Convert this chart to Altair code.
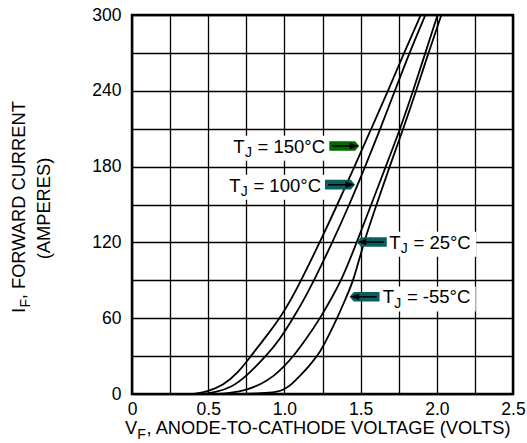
import altair as alt
import pandas as pd

# ---------------- data ----------------
series_names = ["TJ=150", "TJ=100", "TJ=25", "TJ=-55"]
v_150 = [0.40, 0.50, 0.60, 0.69, 0.78, 0.877, 0.97, 1.045, 1.11, 1.232, 1.348, 1.46, 1.57, 1.68, 1.785, 1.895]
i_150 = [0, 2, 7, 16, 30, 45, 60, 75, 90, 120, 150, 180, 210, 240, 270, 300]
v_100 = [0.47, 0.55, 0.65, 0.75, 0.88, 0.97, 1.057, 1.125, 1.195, 1.315, 1.427, 1.53, 1.63, 1.725, 1.82, 1.925]
i_100 = [0, 1.5, 5, 14, 30, 43, 60, 74, 90, 120, 150, 180, 210, 240, 270, 300]
v_25 = [0.55, 0.65, 0.75, 0.85, 0.93, 1.0, 1.06, 1.14, 1.235, 1.305, 1.375, 1.475, 1.57, 1.665, 1.76, 1.845, 1.925, 2.005]
i_25 = [0, 1, 3, 8, 14, 22, 30, 43, 60, 75, 90, 120, 150, 180, 210, 240, 270, 300]
v_m55 = [0.70, 0.85, 0.95, 1.0, 1.05, 1.10, 1.16, 1.23, 1.29, 1.35, 1.40, 1.455, 1.52, 1.605, 1.69, 1.78, 1.865, 1.945, 2.03]
i_m55 = [0, 0.5, 1.5, 3.5, 8, 14, 22, 32, 46, 61, 75, 90, 120, 150, 180, 210, 240, 270, 300]

x_ticks = [0, 0.25, 0.5, 0.75, 1.0, 1.25, 1.5, 1.75, 2.0, 2.25, 2.5]
y_ticks = [0, 30, 60, 90, 120, 150, 180, 210, 240, 270, 300]

# annotation labels ("T", subscript "J", remainder)
label_rest = ["= 150°C", "= 100°C", "= 25°C", "= -55°C"]
label_v = [0.665, 0.638, 1.688, 1.645]
label_i = [191.0, 160.1, 115.0, 71.7]
label_box_px = [97, 97, 87, 93]
arrow_v = [1.393, 1.365, 1.573, 1.526]
arrow_i = [196.3, 165.7, 120.3, 77.0]
arrow_dir = ["right", "right", "left", "left"]
arrow_color = ["#006a00", "#0b5e5e", "#0b5e5e", "#0b5e5e"]

# ---------------- layout ----------------
W, H = 381, 379
PX_PER_V = W / 2.5
PX_PER_A = H / 300.0
FONT = "Liberation Sans"

rows = []
for name, vs, iss in zip(series_names, [v_150, v_100, v_25, v_m55], [i_150, i_100, i_25, i_m55]):
    for v, i in zip(vs, iss):
        rows.append({"series": name, "V": v, "I": i})
curve_df = pd.DataFrame(rows)

lab_df = pd.DataFrame({
    "V": label_v, "I": label_i, "rest": label_rest,
    "V2": [v + (w) / PX_PER_V for v, w in zip(label_v, label_box_px)],
    "Vb": [v - 3 / PX_PER_V for v in label_v],
    "Ib": [i - 8 / PX_PER_A for i in label_i],
    "I2": [i + 17 / PX_PER_A for i in label_i],
})
arr_df = pd.DataFrame({"V": arrow_v, "I": arrow_i, "dir": arrow_dir, "color": arrow_color})

x_scale = alt.Scale(domain=[0, 2.5], nice=False, zero=False)
y_scale = alt.Scale(domain=[0, 300], nice=False, zero=False)

x_axis = alt.Axis(
    values=x_ticks, title=None, grid=True, ticks=False, domain=False,
    labelExpr="datum.value == 0 ? '0' : (abs(datum.value*2 - round(datum.value*2)) < 0.001 ? format(datum.value, '.1f') : '')",
    labelFlush=False, labelOverlap=False, labelPadding=6,
)
y_axis = alt.Axis(
    values=y_ticks, title=None, grid=True, ticks=False, domain=False,
    labelExpr="datum.value % 60 == 0 ? datum.label : ''",
    labelOverlap=False, labelPadding=11,
)

def X(field="V"):
    return alt.X(f"{field}:Q", scale=x_scale, axis=x_axis)

def Y(field="I"):
    return alt.Y(f"{field}:Q", scale=y_scale, axis=y_axis)

curves = alt.Chart(curve_df).mark_line(
    color="black", strokeWidth=1.8, interpolate="basis", clip=True
).encode(x=X(), y=Y(), detail="series:N")

boxes = alt.Chart(lab_df).mark_rect(color="white", opacity=1).encode(
    x=X("Vb"), x2="V2:Q", y=Y("Ib"), y2="I2:Q"
)

BAND_R = "M -1 -0.32 L 0.72 -0.32 L 1 0 L 0.72 0.32 L -1 0.32 Z"
BAND_L = "M 1 -0.32 L -0.72 -0.32 L -1 0 L -0.72 0.32 L 1 0.32 Z"
HEAD_R = "M -0.8 -0.05 L 0.5 -0.05 L 0.5 0.05 L -0.8 0.05 Z M 0.36 -0.22 L 0.95 0 L 0.36 0.22 Z"
HEAD_L = "M 0.8 -0.05 L -0.5 -0.05 L -0.5 0.05 L 0.8 0.05 Z M -0.36 -0.22 L -0.95 0 L -0.36 0.22 Z"

arrow_layers = []
for d, band, head in [("right", BAND_R, HEAD_R), ("left", BAND_L, HEAD_L)]:
    sub = arr_df[arr_df["dir"] == d]
    arrow_layers.append(
        alt.Chart(sub).mark_point(shape=band, filled=True, size=900, opacity=1, strokeWidth=0).encode(
            x=X(), y=Y(), color=alt.Color("color:N", scale=None)
        )
    )
    arrow_layers.append(
        alt.Chart(sub).mark_point(shape=head, filled=True, size=900, opacity=1, strokeWidth=0, color="black").encode(
            x=X(), y=Y()
        )
    )

t_T = alt.Chart(lab_df).mark_text(
    text="T", align="left", baseline="alphabetic", font=FONT, fontSize=18.5, color="black"
).encode(x=X(), y=Y())
t_J = alt.Chart(lab_df).mark_text(
    text="J", align="left", baseline="alphabetic", font=FONT, fontSize=14, color="black", dx=11.6, dy=4.6
).encode(x=X(), y=Y())
t_rest = alt.Chart(lab_df).mark_text(
    align="left", baseline="alphabetic", font=FONT, fontSize=18.5, color="black", dx=24.2
).encode(x=X(), y=Y(), text="rest:N")

one = pd.DataFrame({"k": [0]})

def label(txt, x, y, size, angle=0, align="left", dx=0, dy=0):
    kw = dict(text=txt, align=align, baseline="alphabetic", font=FONT, fontSize=size, color="black", dx=dx, dy=dy)
    if angle:
        kw["angle"] = angle
    return alt.Chart(one).mark_text(**kw).encode(x=alt.value(x), y=alt.value(y))

titles = [
    label("V", -7, 419, 18.3),
    label("F", 5.2, 424, 14),
    label(", ANODE-TO-CATHODE VOLTAGE (VOLTS)", 14.5, 419, 18.3),
    label("I", -107, 298, 18.3, angle=270),
    label("F", -107, 298, 14, angle=270, dx=5.6, dy=4.5),
    label(", FORWARD CURRENT", -107, 298, 18.3, angle=270, dx=13.8),
    label("(AMPERES)", -82, 193.5, 18.3, angle=270, align="center"),
]

chart = alt.layer(
    curves, boxes, *arrow_layers, t_T, t_J, t_rest, *titles
).properties(
    width=W, height=H,
    padding={"left": 132, "top": 15, "right": 14, "bottom": 49},
    autosize=alt.AutoSizeParams(type="none"),
    background="white",
).configure_view(
    stroke="black", strokeWidth=2.5
).configure_axis(
    gridColor="black", gridWidth=1.3, gridOpacity=1,
    labelFont=FONT, labelFontSize=17.5, labelColor="black",
)

chart.save("out.html", embed_options={"renderer": "svg", "actions": False})
